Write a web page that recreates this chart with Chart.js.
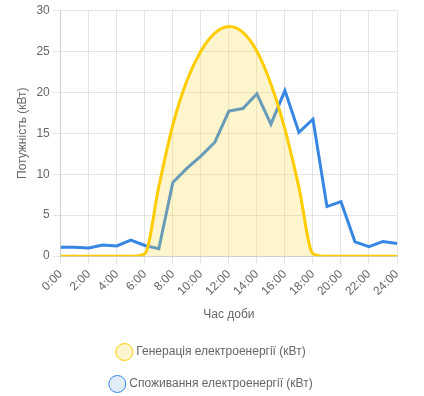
<!DOCTYPE html>
<html>
<head>
<meta charset="utf-8">
<script src="https://cdn.jsdelivr.net/npm/chart.js@4"></script>
<style>
  html, body { margin: 0; padding: 0; background: #fff; }
  #wrap { width: 424px; height: 396px; }
</style>
</head>
<body>
<div id="wrap"><canvas id="myChart"></canvas></div>
<script>
// hours of the day
const hours = ['0:00','1:00','2:00','3:00','4:00','5:00','6:00','7:00','8:00','9:00','10:00','11:00','12:00',
  '13:00','14:00','15:00','16:00','17:00','18:00','19:00','20:00','21:00','22:00','23:00','24:00'];

// generation, kW
const generation = [0, 0, 0, 0, 0, 0, 0.3, 8.5, 16, 21.4, 25, 27.2, 28,
  27.3, 25, 21, 15.5, 8.4, 0.3, 0, 0, 0, 0, 0, 0];

// consumption, kW
const consumption = [1.1, 1.1, 1.0, 1.35, 1.25, 1.95, 1.3, 0.9, 9.0, 10.7, 12.2, 13.9, 17.7,
  18.0, 19.8, 16.1, 20.2, 15.1, 16.7, 6.05, 6.65, 1.75, 1.15, 1.8, 1.55];

const yTicks = [0, 5, 10, 15, 20, 25, 30];

// setup
const data = {
  labels: hours,
  datasets: [{
    label: 'Генерація електроенергії (кВт)',
    data: generation,
    borderColor: 'rgb(255, 204, 0)',
    backgroundColor: 'rgba(255, 214, 51, 0.25)',
    borderWidth: 3,
    fill: true,
    cubicInterpolationMode: 'monotone',
    pointRadius: 0
  }, {
    label: 'Споживання електроенергії (кВт)',
    data: consumption,
    borderColor: 'rgb(54, 135, 228)',
    backgroundColor: 'rgba(54, 135, 228, 0.15)',
    borderWidth: 3,
    fill: false,
    tension: 0,
    pointRadius: 0
  }]
};

// config
const config = {
  type: 'line',
  data,
  options: {
    responsive: true,
    maintainAspectRatio: false,
    animation: false,
    layout: { padding: { left: 0, right: 0, top: 0, bottom: -4 } },
    plugins: {
      legend: {
        position: 'bottom',
        labels: {
          usePointStyle: true,
          padding: 20,
          color: '#666',
          font: { size: 12 },
          generateLabels: (chart) => {
            const items = Chart.defaults.plugins.legend.labels.generateLabels(chart);
            items.forEach(it => { it.lineWidth = 1; });
            return items;
          }
        }
      },
      tooltip: { enabled: false }
    },
    scales: {
      x: {
        title: { display: true, text: 'Час доби', color: '#666', font: { size: 12 }, padding: { top: 6, bottom: 4 } },
        ticks: {
          color: '#666',
          font: { size: 12 },
          minRotation: 45,
          maxRotation: 45,
          autoSkip: true,
          maxTicksLimit: 13
        },
        afterFit: (scale) => { scale.paddingRight = 27; }
      },
      y: {
        min: yTicks[0],
        max: yTicks[yTicks.length - 1],
        title: { display: true, text: 'Потужність (кВт)', color: '#666', font: { size: 12 }, padding: { top: 15, bottom: 4 } },
        ticks: { stepSize: 5, color: '#666', font: { size: 12 } }
      }
    }
  }
};

// render
const myChart = new Chart(document.getElementById('myChart'), config);
</script>
</body>
</html>
